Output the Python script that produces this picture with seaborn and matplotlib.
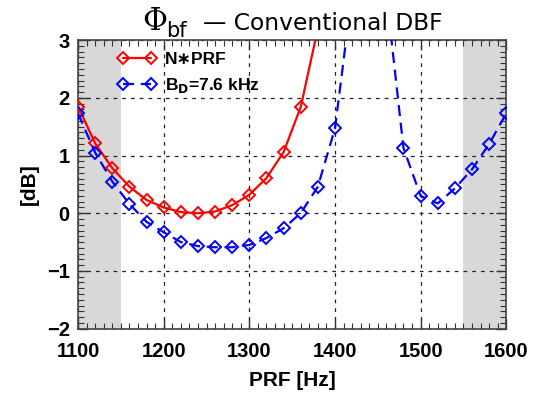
import numpy as np
import pandas as pd
import matplotlib
matplotlib.use("Agg")
import matplotlib.pyplot as plt
import seaborn as sns
from matplotlib.ticker import MultipleLocator

# data
prf_red = [1100, 1120, 1140, 1160, 1180, 1200, 1220, 1240, 1260, 1280,
           1300, 1320, 1340, 1360, 1380]
db_red = [1.85, 1.21, 0.78, 0.46, 0.23, 0.10, 0.02, 0.00, 0.03, 0.14,
          0.32, 0.61, 1.06, 1.84, 3.20]

prf_blue = [1100, 1120, 1140, 1160, 1180, 1200, 1220, 1240, 1260, 1280,
            1300, 1320, 1340, 1360, 1380, 1400, 1420, 1440, 1460, 1480,
            1500, 1520, 1540, 1560, 1580, 1600]
db_blue = [1.73, 1.05, 0.55, 0.16, -0.15, -0.33, -0.50, -0.57, -0.59, -0.59,
           -0.55, -0.43, -0.26, 0.00, 0.46, 1.47, 3.82, 8.0, 3.80, 1.13,
           0.30, 0.17, 0.43, 0.76, 1.20, 1.73]

shaded = [(1100, 1150), (1550, 1600)]
labels = ["N\u2217PRF", r"B$_\mathbf{D}$=7.6 kHz"]

sns.set_theme(style="white")
plt.rcParams["font.family"] = ["Liberation Sans", "DejaVu Sans"]
plt.rcParams["mathtext.fontset"] = "dejavusans"
plt.rcParams["text.color"] = "black"
plt.rcParams["axes.labelcolor"] = "black"
plt.rcParams["xtick.labelcolor"] = "black"
plt.rcParams["ytick.labelcolor"] = "black"

df_red = pd.DataFrame({"prf": prf_red, "db": db_red})
df_blue = pd.DataFrame({"prf": prf_blue, "db": db_blue})

fig = plt.figure(figsize=(5.42, 3.94), dpi=100)
ax = fig.add_axes([0.144, 0.166, 0.790, 0.732])

for lo, hi in shaded:
    ax.axvspan(lo, hi, color="#d8d8d8", lw=0, zorder=0)

sns.lineplot(data=df_red, x="prf", y="db", ax=ax, color="#ff0000", lw=1.6,
             marker="D", markersize=6.5, markerfacecolor="none",
             markeredgecolor="#ff0000", markeredgewidth=1.4, label=labels[0],
             sort=False, zorder=3)
sns.lineplot(data=df_blue, x="prf", y="db", ax=ax, color="#0000ff", lw=1.6,
             marker="D", markersize=6.5, markerfacecolor="none",
             markeredgecolor="#0000ff", markeredgewidth=1.4, label=labels[1],
             sort=False, zorder=3)
ax.lines[1].set_dashes([5, 3])

ax.set_xlim(1100, 1600)
ax.set_ylim(-2, 3)
ax.xaxis.set_major_locator(MultipleLocator(100))
ax.xaxis.set_minor_locator(MultipleLocator(10))
ax.yaxis.set_minor_locator(MultipleLocator(0.1))
ax.set_yticks([-2, -1, 0, 1, 2, 3])
ax.set_yticklabels(["\u22122", "\u22121", "0", "1", "2", "3"])
ax.tick_params(which="both", direction="in", top=True, right=True,
               bottom=True, left=True, labelsize=14.5, color="#333333",
               labelcolor="black")
ax.tick_params(which="major", length=7, width=1)
ax.tick_params(which="minor", length=4, width=0.8)
ax.tick_params(axis="x", pad=10)
ax.tick_params(axis="y", pad=6)
for lab in ax.get_xticklabels() + ax.get_yticklabels():
    lab.set_fontweight("bold")

ax.grid(True, which="major", color="#222222", ls=(0, (3, 4)), lw=0.9)
for sp in ax.spines.values():
    sp.set_color("#444444")
    sp.set_linewidth(1.2)

ax.set_xlabel("PRF [Hz]", fontsize=15, fontweight="bold", labelpad=7)
ax.set_ylabel("[dB]", fontsize=15, fontweight="bold", labelpad=6)

# title in three pieces: big Greek Phi, subscript, rest of the text
fig.text(0.262, 0.924, "\u03a6", family="DejaVu Serif", fontsize=22,
         va="baseline", ha="left")
fig.text(0.306, 0.906, "bf", family="DejaVu Sans", fontsize=15,
         va="baseline", ha="left")
fig.text(0.374, 0.924, "\u2014 Conventional DBF", family="DejaVu Sans",
         fontsize=16.8, va="baseline", ha="left")

leg = ax.legend(loc="upper left", frameon=False, numpoints=2, handlelength=2.2,
                fontsize=12.5, borderaxespad=0.3, labelspacing=0.5,
                handletextpad=0.5, bbox_to_anchor=(0.065, 1.0))
for t in leg.get_texts():
    t.set_fontweight("bold")
    t.set_color("black")

fig.savefig("out.png", dpi=100)
